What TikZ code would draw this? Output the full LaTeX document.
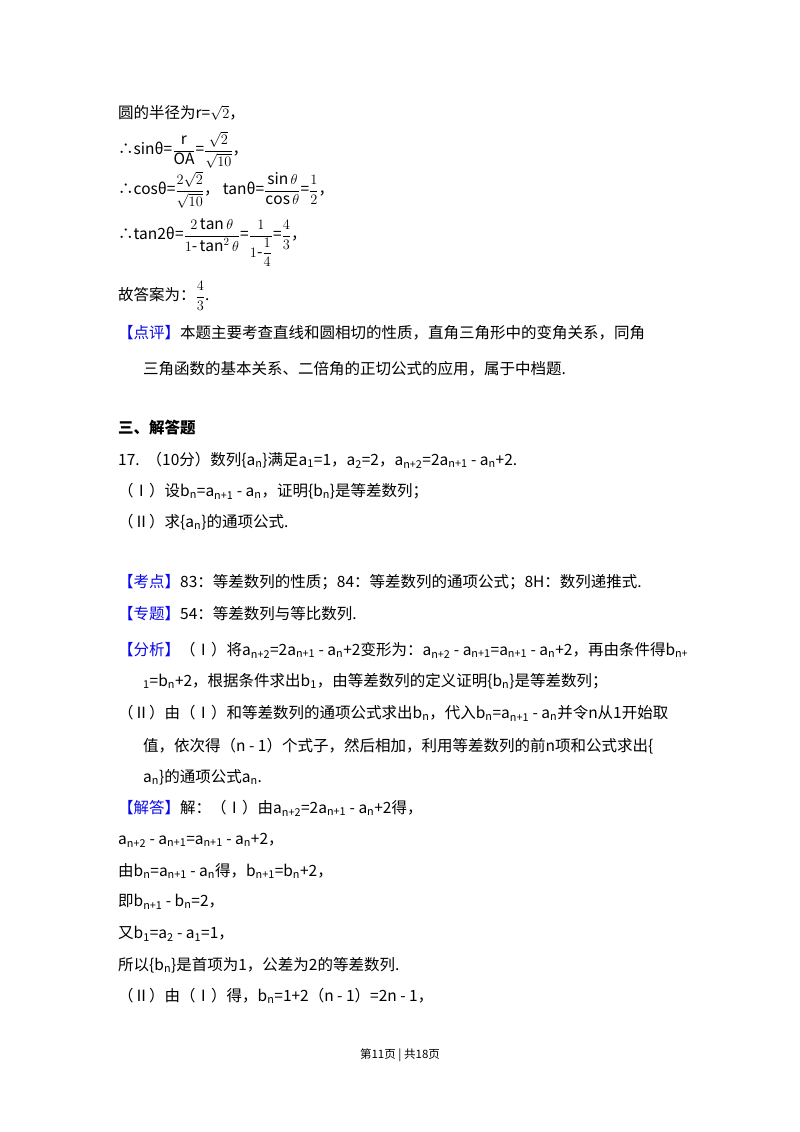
\documentclass[tikz,border=0pt]{standalone}
\usepackage{amsmath}
\usepackage{fontspec}
\setmainfont{Noto Sans CJK SC}
\newcommand{\sbs}[1]{\textsubscript{#1}}
\newcommand{\kh}[1]{\textcolor{bcol}{【#1】}}
\definecolor{bcol}{RGB}{10,10,230}
\begin{document}
\begin{tikzpicture}[x=1pt,y=1pt,
 ln/.style={anchor=west,inner sep=0pt,font=\fontsize{15.5}{17}\selectfont}]
\useasboundingbox[fill=white] (0,0) rectangle (800,-1132);
\node[ln] (l1) at (118,-113) {圆的半径为r=$\sqrt{2}$，};
\node[ln] (l2) at (118,-150) {∴sinθ=$\dfrac{\mathrm{r}}{\mathrm{OA}}$=$\dfrac{\sqrt{2}}{\sqrt{10}}$，};
\node[ln] (l3) at (118,-190) {∴cosθ=$\dfrac{2\sqrt{2}}{\sqrt{10}}$，\ tanθ=$\dfrac{\mathrm{sin}\,\theta}{\mathrm{cos}\,\theta}$=$\dfrac{1}{2}$，};
\node[ln] (l4) at (118,-243) {∴tan2θ=$\dfrac{2\tan\theta}{1\text{-}\tan^2\theta}$=$\dfrac{1}{1\text{-}\dfrac{1}{4}}$=$\dfrac{4}{3}$，};
\node[ln] (l5) at (118,-296) {故答案为：$\dfrac{4}{3}$.};
\node[ln] (l6) at (118,-333) {\kh{点评}本题主要考查直线和圆相切的性质，直角三角形中的变角关系，同角};
\node[ln] (l7) at (143,-369) {三角函数的基本关系、二倍角的正切公式的应用，属于中档题.};
\node[ln,font=\fontsize{15.5}{17}\selectfont\bfseries] (h) at (118,-428) {三、解答题};
\node[ln] (q1) at (118,-460) {17.\ \ （10分）数列\{a\sbs{n}\}满足a\sbs{1}=1，a\sbs{2}=2，a\sbs{n+2}=2a\sbs{n+1} - a\sbs{n}+2.};
\node[ln] (q2) at (118,-491) {（Ⅰ）设b\sbs{n}=a\sbs{n+1} - a\sbs{n}，证明\{b\sbs{n}\}是等差数列；};
\node[ln] (q3) at (118,-522) {（Ⅱ）求\{a\sbs{n}\}的通项公式.};
\node[ln] (k1) at (118,-582) {\kh{考点}83：等差数列的性质；84：等差数列的通项公式；8H：数列递推式.};
\node[ln] (k2) at (118,-614) {\kh{专题}54：等差数列与等比数列.};
\node[ln] (k3) at (118,-650) {\kh{分析}（Ⅰ）将a\sbs{n+2}=2a\sbs{n+1} - a\sbs{n}+2变形为：a\sbs{n+2} - a\sbs{n+1}=a\sbs{n+1} - a\sbs{n}+2，再由条件得b\sbs{n+}};
\node[ln] (k4) at (143,-681) {\sbs{1}=b\sbs{n}+2，根据条件求出b\sbs{1}，由等差数列的定义证明\{b\sbs{n}\}是等差数列；};
\node[ln] (k5) at (118,-713) {（Ⅱ）由（Ⅰ）和等差数列的通项公式求出b\sbs{n}，代入b\sbs{n}=a\sbs{n+1} - a\sbs{n}并令n从1开始取};
\node[ln] (k6) at (143,-746) {值，依次得（n - 1）个式子，然后相加，利用等差数列的前n项和公式求出\{};
\node[ln] (k7) at (143,-777) {a\sbs{n}\}的通项公式a\sbs{n}.};
\node[ln] (s1) at (118,-808) {\kh{解答}解：（Ⅰ）由a\sbs{n+2}=2a\sbs{n+1} - a\sbs{n}+2得，};
\node[ln] (s2) at (118,-840) {a\sbs{n+2} - a\sbs{n+1}=a\sbs{n+1} - a\sbs{n}+2，};
\node[ln] (s3) at (118,-871) {由b\sbs{n}=a\sbs{n+1} - a\sbs{n}得，b\sbs{n+1}=b\sbs{n}+2，};
\node[ln] (s4) at (118,-902) {即b\sbs{n+1} - b\sbs{n}=2，};
\node[ln] (s5) at (118,-934) {又b\sbs{1}=a\sbs{2} - a\sbs{1}=1，};
\node[ln] (s6) at (118,-965) {所以\{b\sbs{n}\}是首项为1，公差为2的等差数列.};
\node[ln] (s7) at (118,-996) {（Ⅱ）由（Ⅰ）得，b\sbs{n}=1+2（n - 1）=2n - 1，};
\node[anchor=center,inner sep=0pt,font=\fontsize{11.5}{13}\selectfont] (ft) at (400,-1055) {第11页 | 共18页};
\end{tikzpicture}
\end{document}
